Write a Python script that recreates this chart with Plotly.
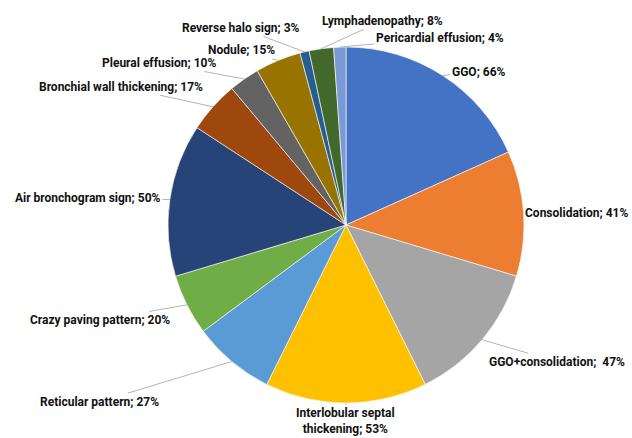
import math
import plotly.graph_objects as go

categories = ["GGO", "Consolidation", "GGO+consolidation", "Interlobular septal thickening",
              "Reticular pattern", "Crazy paving pattern", "Air bronchogram sign",
              "Bronchial wall thickening", "Pleural effusion", "Nodule",
              "Reverse halo sign", "Lymphadenopathy", "Pericardial effusion"]
percent = [66, 41, 47, 53, 27, 20, 50, 17, 10, 15, 3, 8, 4]

colors = ["#4472C4", "#ED7D31", "#A5A5A5", "#FFC000", "#5B9BD5", "#70AD47", "#264478",
          "#9E480E", "#636363", "#997300", "#255E91", "#43682B", "#7A9AD6"]

# label text display strings
label_text = ["GGO; 66%", "Consolidation; 41%", "GGO+consolidation;  47%",
              "Interlobular septal<br>thickening; 53%", "Reticular pattern; 27%",
              "Crazy paving pattern; 20%", "Air bronchogram sign; 50%",
              "Bronchial wall thickening; 17%", "Pleural effusion; 10%", "Nodule; 15%",
              "Reverse halo sign; 3%", "Lymphadenopathy; 8%", "Pericardial effusion; 4%"]
# label offsets (pixels) from slice edge
offsets = [(36, -4), (53, 0), (75, 22), (-1, 18), (-132, 40), (-87, 15), (-82, -2),
           (-92, -20), (-85, -16), (-37, -10), (-64, -24), (61, -28), (100, -9)]

W, H = 632, 438
cx, cy, R = 346, 225, 178

fig = go.Figure(go.Pie(
    labels=categories, values=percent, sort=False, direction="clockwise", rotation=0,
    marker=dict(colors=colors, line=dict(color="white", width=0.6)),
    textinfo="none", hoverinfo="label+value", showlegend=False,
    domain=dict(x=[(cx - R) / W, (cx + R) / W], y=[(H - cy - R) / H, (H - cy + R) / H]),
))

total = sum(percent)
cum = 0
annotations = []
for txt, v, (ox, oy) in zip(label_text, percent, offsets):
    mid = (cum + v / 2) / total * 2 * math.pi
    cum += v
    px = cx + R * math.sin(mid)
    py = cy - R * math.cos(mid)
    annotations.append(dict(
        x=px / W, y=1 - py / H, xref="paper", yref="paper",
        text="<b>" + txt + "</b>", showarrow=True, arrowhead=0, arrowwidth=1,
        arrowcolor="#B4B4B4", ax=ox, ay=oy, align="center",
        font=dict(family="Roboto, Liberation Sans, sans-serif", size=12, color="#111111"),
    ))

fig.update_layout(width=W, height=H, margin=dict(l=0, r=0, t=0, b=0),
                  paper_bgcolor="white", plot_bgcolor="white", annotations=annotations)
fig.write_html("out.html", config={"displayModeBar": False},
               post_script="document.body.style.margin='0';")
